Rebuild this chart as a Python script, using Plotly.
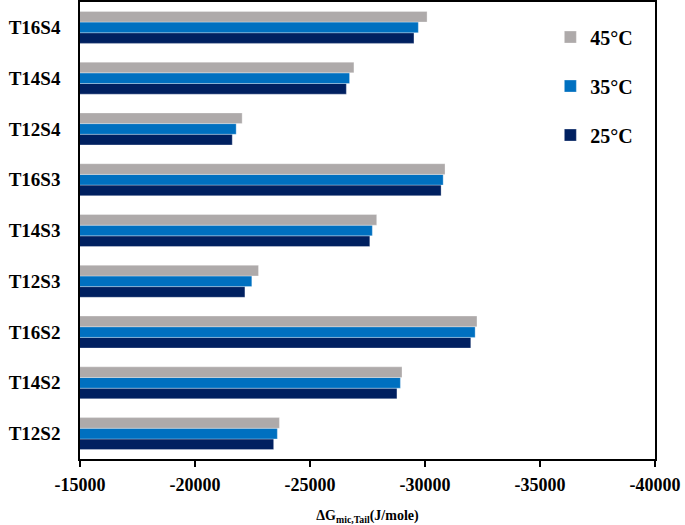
import plotly.graph_objects as go

categories = ["T12S2", "T14S2", "T16S2", "T12S3", "T14S3", "T16S3", "T12S4", "T14S4", "T16S4"]
g25 = [-23420, -28780, -31990, -22170, -27600, -30700, -21620, -26580, -29520]
g35 = [-23580, -28930, -32180, -22470, -27710, -30790, -21790, -26720, -29710]
g45 = [-23670, -29000, -32260, -22760, -27900, -30870, -22050, -26910, -30090]
series_names = ["25°C", "35°C", "45°C"]
colors = ["#002060", "#0070C0", "#AEAAAA"]
x_ticks = [-15000, -20000, -25000, -30000, -35000, -40000]
x_tick_labels = ["-15000", "-20000", "-25000", "-30000", "-35000", "-40000"]

fig = go.Figure()
for i, (name, vals, col) in enumerate(zip(series_names, [g25, g35, g45], colors)):
    fig.add_trace(go.Bar(
        y=categories, x=vals, name=name, orientation="h",
        marker=dict(color=col, line=dict(width=0.5, color="rgba(255,255,255,0.6)")),
        legendgroup=name, legendrank=3 - i,
    ))

font_family = "Liberation Serif, Times New Roman, serif"
fig.update_layout(
    width=685, height=525,
    margin=dict(l=80, r=30, t=2, b=66),
    paper_bgcolor="white", plot_bgcolor="white",
    barmode="group", bargap=0.37, bargroupgap=0,
    font=dict(family=font_family, color="black"),
    legend=dict(
        x=0.818, y=0.966, xanchor="left", yanchor="top",
        traceorder="grouped", tracegroupgap=20,
        font=dict(size=20, family=font_family, weight="bold"),
        itemwidth=30, bgcolor="rgba(0,0,0,0)",
    ),
    showlegend=True,
)
fig.update_xaxes(
    range=[-15000, -40000], tickvals=x_ticks, ticktext=x_tick_labels,
    tickfont=dict(size=18, weight="bold"),
    showline=True, linecolor="black", linewidth=1.5, mirror=True,
    ticks="outside", ticklen=6, tickcolor="black", tickwidth=1.5,
    ticklabelstandoff=3,
    showgrid=False, zeroline=False, automargin=False,
    title=dict(text="ΔG<sub>mic,Tail</sub>(J/mole)", font=dict(size=14, weight="bold"), standoff=18),
)
fig.update_yaxes(
    type="category", categoryorder="array", categoryarray=categories,
    tickfont=dict(size=19, weight="bold"),
    showline=True, linecolor="black", linewidth=1.5, mirror=True,
    ticks="", ticklabelstandoff=14, showgrid=False, automargin=False,
)

fig.write_html("out.html", config={"displayModeBar": False},
               post_script="document.body.style.margin='0';")
